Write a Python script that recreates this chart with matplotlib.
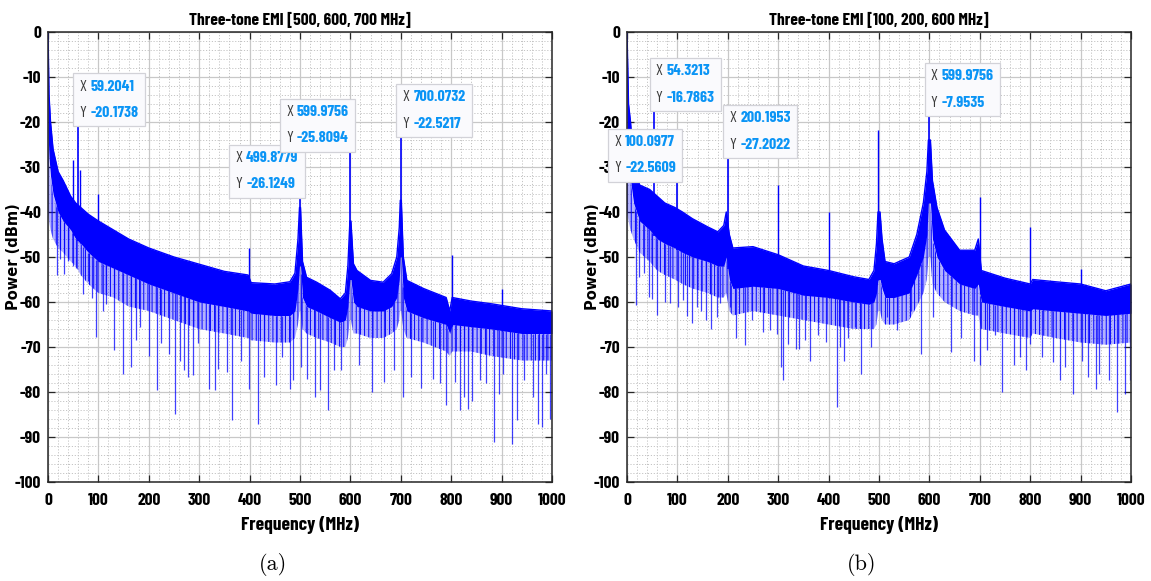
import numpy as np
import matplotlib
matplotlib.use("Agg")
import matplotlib.pyplot as plt
from matplotlib.ticker import MultipleLocator
from matplotlib.offsetbox import TextArea, HPacker, VPacker, AnnotationBbox

plt.rcParams["axes.unicode_minus"] = False
plt.rcParams["hatch.linewidth"] = 0.7

# ---------------- panel (a): tones at 500, 600, 700 MHz ----------------
FREQ_A = [0, 2, 5, 10, 20, 30, 45, 55, 65, 80, 100, 130, 160, 200, 250, 300, 350,
          397, 403, 450, 480, 490, 496, 499, 501, 505, 513, 533, 560, 580, 590, 595,
          599, 601, 606, 613, 640, 665, 682, 692, 697, 699, 701, 705, 712, 745, 790,
          797, 802, 840, 880, 940, 1000]
TOP_A = [0, -14, -20, -26, -31, -33, -36.5, -38, -39, -40.5, -42, -44, -46, -48, -50,
         -51.6, -53.2, -54, -55.7, -56, -55.5, -53.6, -46, -39, -39, -51, -54.5, -55.6,
         -57.4, -59.3, -58, -52, -42, -42, -51.5, -53, -55.2, -55.6, -53.7, -50, -43.4,
         -37.4, -37.4, -50, -55.2, -57, -59, -62, -59, -59.8, -60.4, -61.5, -62]
CORE_A = [-22, -28, -32, -36, -40, -42, -44, -46, -47, -49, -51, -52.5, -54, -56, -58,
          -60, -61, -62, -62.5, -63, -63, -62, -57, -52, -52, -59, -61, -62, -63.5,
          -64.5, -64, -61, -55, -55, -60, -61, -62, -62, -61, -59, -55, -50, -50, -59,
          -62, -63.5, -65, -67, -65, -65.5, -66, -67, -67]
FLOOR_A = [-40, -42, -44, -46, -48, -49, -51, -52, -54, -56, -58, -59, -61, -62, -64,
           -66, -67, -68, -68.5, -69, -69, -68, -65, -62, -62, -66, -67, -68, -69, -70,
           -70, -68, -64, -64, -67, -67, -68, -68, -67, -66, -64, -62, -62, -66, -68,
           -69, -71, -72, -71, -71, -72, -73, -73]
SPUR_F_A = [50.4, 63.5, 99.8, 399.0, 801.0, 900.0, 999.5]
SPUR_DB_A = [-28.4, -30.6, -36.0, -48.0, -49.6, -57.0, -56.5]
DIP_F_A = [17.2, 23.8, 31.7, 40.3, 48.9, 54.9, 70, 80, 87, 96, 110, 116, 131, 149, 164,
           175, 182, 200, 217, 225, 241, 252, 262, 269, 278, 287, 298, 320, 331, 338,
           355, 365, 382, 399, 416, 429, 452, 464, 480, 487, 502, 513, 529, 540, 555,
           567, 582, 618, 642, 667, 687, 704, 721, 740, 764, 778, 789, 807, 817, 825,
           834, 841, 858, 869, 885, 895, 902, 920, 931, 945, 962, 972, 980, 989, 996]
DIP_DB_A = [-53.9, -50.5, -53.7, -50.9, -52.0, -52.4, -58.3, -55.3, -59, -67.8, -62,
            -60.5, -70.7, -76, -74.4, -68.5, -65.5, -71.9, -79.6, -69, -71.5, -84.8, -73,
            -75.2, -76.7, -76.3, -69, -79.3, -79.6, -74.8, -75.6, -86.3, -73, -79.3, -87,
            -76.7, -78.5, -72.2, -79.3, -77.4, -74.4, -77, -81, -79.6, -84, -75.2, -75.2,
            -74, -80, -77.8, -75.2, -81, -76.7, -79, -77, -78.1, -82.9, -77.8, -83.9,
            -81.1, -83.7, -81.9, -77.4, -78.1, -91.1, -80.4, -75.9, -91.5, -86.3, -77.4,
            -81.1, -87, -87.8, -75.9, -85.9]
TIP_X_A = [59.2041, 499.8779, 599.9756, 700.0732]
TIP_Y_A = [-20.1738, -26.1249, -25.8094, -22.5217]

# ---------------- panel (b): tones at 100, 200, 600 MHz ----------------
FREQ_B = [0, 3, 7, 13, 25, 45, 60, 75, 95, 110, 130, 160, 180, 192, 197, 203, 210,
          250, 300, 350, 400, 450, 480, 490, 495, 498, 502, 506, 512, 530, 560, 575,
          588, 595, 598, 602, 606, 615, 630, 660, 690, 697, 703, 750, 800, 805, 850,
          900, 950, 1000]
TOP_B = [0, -16, -20, -29, -34, -35, -36.5, -38, -39, -40, -41.5, -43.3, -44.4, -43,
         -40, -45, -48, -47.7, -49.5, -52, -53, -54.4, -55, -53, -47, -40, -40, -46,
         -51, -51.5, -50, -45, -38, -31, -24, -24, -33, -39, -44, -48.5, -48.5, -46,
         -53, -54.7, -56, -55, -55.5, -56, -57.5, -56]
CORE_B = [-25, -30, -33, -38, -42, -44, -46, -47, -48, -49, -50, -51, -52, -52, -50,
          -55, -57, -56.5, -57, -58.5, -59, -60, -60.5, -60, -58, -55, -55, -57, -59,
          -59, -58, -54, -50, -45, -38, -38, -46, -50, -53, -56, -57, -56, -60, -61,
          -62, -61.5, -62, -62.5, -63, -62.5]
FLOOR_B = [-40, -42, -44, -46, -49, -51, -53, -54, -55, -56, -57, -58, -59, -59, -58,
           -62, -63, -62, -63, -64, -65, -66, -66, -66, -65, -62, -62, -64, -65, -65,
           -64, -61, -58, -55, -50, -50, -56, -58, -60, -62, -63, -63, -66, -67, -68,
           -67, -68, -69, -69.5, -69]
SPUR_F_B = [299.6, 400.0, 498.8, 700.4, 800.0, 900.0]
SPUR_DB_B = [-34.1, -40.0, -21.8, -36.6, -43.3, -52.7]
DIP_F_B = [18, 23, 34, 43, 50, 60, 76, 86, 102, 112, 120, 129, 139, 147, 157, 166, 178,
           185, 204, 216, 234, 248, 269, 284, 297, 306, 310, 320, 336, 342, 353, 363,
           379, 395, 417, 422, 430, 439, 452, 465, 485, 516, 535, 564, 583, 608, 642,
           663, 688, 701, 714, 730, 745, 768, 779, 792, 799, 823, 845, 859, 869, 885,
           903, 914, 931, 936, 956, 973, 989, 999]
DIP_DB_B = [-60.7, -54.4, -53.6, -58.8, -59.3, -62.9, -60, -60.3, -61, -59.6, -63,
            -64.7, -61, -61.9, -64, -66, -63.3, -60.3, -61.1, -68.1, -69.6, -64, -66.7,
            -66.3, -67, -74.4, -77.4, -69.3, -70.4, -70.4, -68.5, -73, -67.4, -68.9,
            -83.3, -70, -73, -68.1, -65.6, -75.9, -70, -63.3, -66.3, -61.9, -71.5, -63.3,
            -71.1, -68.1, -73, -74.1, -70.7, -67.4, -80, -74.1, -72.2, -75.2, -69.3,
            -72.2, -73.3, -77.4, -74.4, -80.4, -73, -76.7, -79.3, -75.9, -77.4, -84.4,
            -80.4, -77.4]
TIP_X_B = [54.3213, 100.0977, 200.1953, 599.9756]
TIP_Y_B = [-16.7863, -22.5609, -27.2022, -7.9535]

TITLE_A = "Three-tone EMI [500, 600, 700 MHz]"
TITLE_B = "Three-tone EMI [100, 200, 600 MHz]"

# ---------------- styling ----------------
BLUE = "#0000FF"
TIP_BLUE = "#0A94F5"
NARROW = ["Barlow Condensed", "Barlow Semi Condensed", "DejaVu Sans"]
# box corner anchored at each data tip: (x_align, y_align) of the box
CORNERS_A = [(0, 0), (1, 1), (1, 0), (0, 0)]
CORNERS_B = [(0, 0), (1, 1), (0, 0), (0, 1)]


def draw_tip(ax, x, y, corner):
    tp_lab = dict(color="#3a3a3a", fontsize=11.5, family=NARROW)
    tp_val = dict(color=TIP_BLUE, fontsize=11.5, family=NARROW, fontweight="bold")
    row1 = HPacker(children=[TextArea("X", textprops=tp_lab),
                             TextArea(f"{x:.4f}", textprops=tp_val)],
                   sep=3, pad=0, align="baseline")
    row2 = HPacker(children=[TextArea("Y", textprops=tp_lab),
                             TextArea(f"{y:.4f}", textprops=tp_val)],
                   sep=3, pad=0, align="baseline")
    box = VPacker(children=[row1, row2], sep=9, pad=0, align="left")
    dx = 1 if corner[0] == 0 else -1
    dy = 2 if corner[1] == 0 else -1
    ab = AnnotationBbox(box, (x, y), xybox=(dx, dy), xycoords="data",
                        boxcoords="offset points", box_alignment=corner,
                        pad=0.4, annotation_clip=False,
                        bboxprops=dict(boxstyle="square,pad=0.45", fc="#FAFAFD",
                                       ec="#D2D2D8", lw=0.9))
    ab.set_zorder(10)
    ax.add_artist(ab)
    ab.set_clip_on(False)


def draw_panel(ax, freq, top, core, floor, spur_f, spur_db, dip_f, dip_db,
               tip_x, tip_y, corners, title):
    ax.fill_between(freq, floor, core, facecolor=(0, 0, 1, 0.3), edgecolor=BLUE,
                    hatch="||||", lw=0, zorder=2)
    ax.fill_between(freq, core, top, color=BLUE, lw=0, zorder=2.1)
    ax.plot(freq, top, color=BLUE, lw=1.0, zorder=2.2)
    ax.vlines(dip_f, dip_db, np.interp(dip_f, freq, core), color=BLUE, lw=0.9,
              alpha=0.75, zorder=2)
    ax.vlines(spur_f, np.interp(spur_f, freq, core), spur_db, color=BLUE, lw=1.0,
              zorder=2.2)
    ax.vlines(tip_x, np.interp(tip_x, freq, core), tip_y, color=BLUE, lw=1.2,
              zorder=2.2)
    ax.plot(tip_x, tip_y, "o", ms=2.6, color="#1a1a1a", zorder=6)
    for x, y, c in zip(tip_x, tip_y, corners):
        draw_tip(ax, x, y, c)

    ax.set_xlim(0, 1000)
    ax.set_ylim(-100, 0)
    ax.xaxis.set_major_locator(MultipleLocator(100))
    ax.xaxis.set_minor_locator(MultipleLocator(20))
    ax.yaxis.set_major_locator(MultipleLocator(10))
    ax.yaxis.set_minor_locator(MultipleLocator(2))
    ax.set_axisbelow(True)
    ax.grid(which="major", color="#c8c8c8", lw=0.9, ls="-")
    ax.grid(which="minor", color="#c4c4c4", lw=0.7, ls=(0, (1.2, 1.8)))
    ax.tick_params(which="major", direction="in", top=True, right=True, length=5,
                   width=0.9, color="#262626")
    ax.tick_params(axis="x", which="major", pad=8)
    ax.tick_params(axis="y", which="major", pad=5)
    ax.tick_params(which="minor", length=0)
    for lab in ax.get_xticklabels() + ax.get_yticklabels():
        lab.set_family(NARROW)
        lab.set_fontweight("bold")
        lab.set_fontsize(12.5)
    for sp in ax.spines.values():
        sp.set_color("#262626")
        sp.set_linewidth(1.1)
    ax.set_title(title, family=NARROW, fontweight="bold", fontsize=12.5, pad=5)
    ax.set_xlabel("Frequency (MHz)", family=NARROW, fontweight="bold", fontsize=14,
                  labelpad=6)
    ax.set_ylabel("Power (dBm)", family="DejaVu Sans", fontweight="bold",
                  fontsize=10.5)
    ax.yaxis.set_label_coords(-27 / 504, 0.5)


fig = plt.figure(figsize=(11.51, 5.81), dpi=100)
ax_a = fig.add_axes([48 / 1151, 1 - 482 / 581, 504 / 1151, 450 / 581])
ax_b = fig.add_axes([627 / 1151, 1 - 482 / 581, 504 / 1151, 450 / 581])

draw_panel(ax_a, FREQ_A, TOP_A, CORE_A, FLOOR_A, SPUR_F_A, SPUR_DB_A, DIP_F_A,
           DIP_DB_A, TIP_X_A, TIP_Y_A, CORNERS_A, TITLE_A)
draw_panel(ax_b, FREQ_B, TOP_B, CORE_B, FLOOR_B, SPUR_F_B, SPUR_DB_B, DIP_F_B,
           DIP_DB_B, TIP_X_B, TIP_Y_B, CORNERS_B, TITLE_B)

fig.text(273 / 1151, 1 - 565 / 581, "(a)", family="cmr10", fontsize=16,
         ha="center", va="center")
fig.text(862 / 1151, 1 - 565 / 581, "(b)", family="cmr10", fontsize=16,
         ha="center", va="center")

fig.savefig("out.png", dpi=100, facecolor="white")
